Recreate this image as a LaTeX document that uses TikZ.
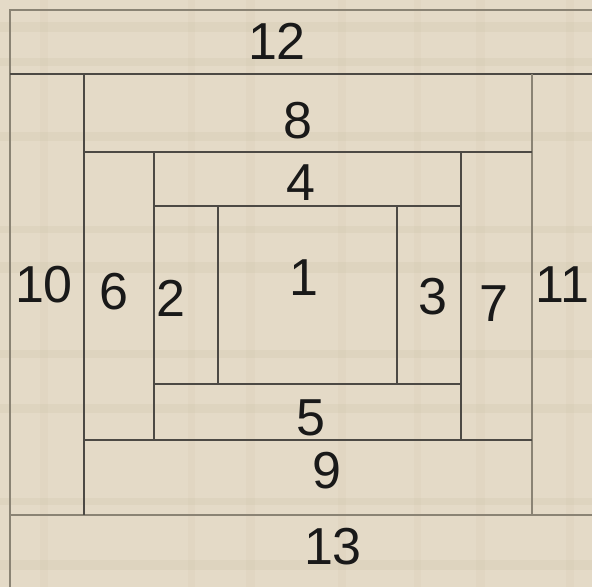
\documentclass[tikz,border=0pt]{standalone}
\usepackage{fontspec}
\setmainfont{Liberation Sans}
\usepackage{tikz}
\usetikzlibrary{calc,positioning}
\definecolor{lcfabric}{HTML}{E4DAC7}
\definecolor{lcshade}{HTML}{CDBFA6}
\definecolor{lcseam}{HTML}{4C4944}
\definecolor{lcouter}{HTML}{8A8374}
\tikzset{
 lc seam/.style={line width=1.1pt,lcseam},
 lc outer seam/.style={line width=1.8pt,lcouter},
 lc band/.style={lcshade,opacity=.22},
 lc label/.style={inner sep=0pt,outer sep=0pt,text=black!90,
                  font=\fontsize{52}{52}\selectfont}
}
\begin{document}
\begin{tikzpicture}[x=1pt,y=-1pt]
 \useasboundingbox (0,0) rectangle (592,587);
 \fill[lcfabric] (0,0) rectangle (592,587);
 % faint weave of the fabric
 \foreach \y/\h in {22/10,58/8,132/9,226/7,262/11,350/8,404/9,498/7,560/10}
   \fill[lc band] (0,\y) rectangle (592,\y+\h);
 \foreach \x/\w in {40/8,188/7,246/9,338/8,414/7,476/9,566/8}
   \fill[lc band,opacity=.12] (\x,0) rectangle (\x+\w,587);

 % rounds of the block
 \coordinate (r3nw) at (10,10);
 \coordinate (r2nw) at (84,74);
 \coordinate (r2se) at (532,515);
 \coordinate (r1nw) at (154,152);
 \coordinate (r1se) at (461,440);
 \coordinate (c0nw) at (218,206);
 \coordinate (c0se) at (397,384);

 \draw[lc outer seam] (10,587)--(r3nw)--(592,10);
 \draw[lc seam] (10,74)--(592,74);
 \draw[lc outer seam] (10,515)--(592,515);
 \draw[lc seam] (r2nw)--(84,515);
 \draw[lc outer seam] (532,74)--(r2se);
 \draw[lc seam] (84,152)--(532,152);
 \draw[lc seam] (84,440)--(532,440);
 \draw[lc seam] (r1nw)--(154,440);
 \draw[lc seam] (461,152)--(r1se);
 \draw[lc seam] (154,206)--(461,206);
 \draw[lc seam] (154,384)--(461,384);
 \draw[lc seam] (c0nw)--(218,384);
 \draw[lc seam] (397,206)--(c0se);

 \node[lc label] (p1) at (304,278) {1};
 \node[lc label] (p2) at (171,298) {2};
 \node[lc label] (p3) at (433,297) {3};
 \node[lc label] (p4) at (301,183) {4};
 \node[lc label] (p5) at (311,418) {5};
 \node[lc label] (p6) at (114,292) {6};
 \node[lc label] (p7) at (494,304) {7};
 \node[lc label] (p8) at (298,121) {8};
 \node[lc label] (p9) at (327,471) {9};
 \node[lc label] (p10) at (44,285) {10};
 \node[lc label] (p11) at (562,285) {11};
 \node[lc label] (p12) at (277,41) {12};
 \node[lc label] (p13) at (333,547) {13};
\end{tikzpicture}
\end{document}
